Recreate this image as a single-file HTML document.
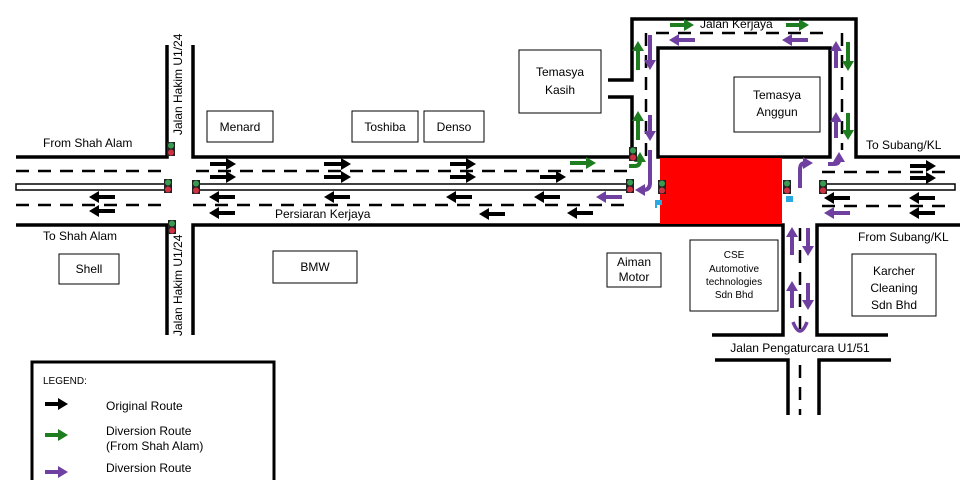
<!DOCTYPE html>
<html><head><meta charset="utf-8"><style>
body{margin:0;background:#fff;width:960px;height:480px;overflow:hidden}
text{font-family:"Liberation Sans",Arial,sans-serif;font-size:12px;fill:#000}
.k{stroke:#000;stroke-width:4;fill:none;marker-end:url(#hk)}
.g{stroke:#1e7d1e;stroke-width:4;fill:none;marker-end:url(#hg)}
.p{stroke:#7040a0;stroke-width:4;fill:none;marker-end:url(#hp)}
</style></head><body>
<svg width="960" height="480" viewBox="0 0 960 480" xmlns="http://www.w3.org/2000/svg">
<defs>
<marker id="hk" markerWidth="2.5" markerHeight="3" refX="0.5" refY="1.5" orient="auto" markerUnits="strokeWidth"><path d="M0,0 L2.5,1.5 L0,3z" fill="#000"/></marker>
<marker id="hg" markerWidth="2.5" markerHeight="3" refX="0.5" refY="1.5" orient="auto" markerUnits="strokeWidth"><path d="M0,0 L2.5,1.5 L0,3z" fill="#1e7d1e"/></marker>
<marker id="hp" markerWidth="2.5" markerHeight="3" refX="0.5" refY="1.5" orient="auto" markerUnits="strokeWidth"><path d="M0,0 L2.5,1.5 L0,3z" fill="#7040a0"/></marker>
<g id="tl"><rect x="-4" y="0" width="8" height="14" fill="#222"/><circle cx="0" cy="3.5" r="3" fill="#3a9a50"/><circle cx="0" cy="10.5" r="3" fill="#d03040"/></g>
</defs>

<g stroke="#000" stroke-width="3.5" fill="none">
<path d="M16,157 H167 V45"/>
<path d="M193,45 V157 H632 V97 H608"/>
<path d="M608,80 H632 V19 H856 V157 H960"/>
<path d="M16,225 H167 V335"/>
<path d="M193,335 V225 H783 V335 H712"/>
<path d="M888,335 H817 V225 H960"/>
<path d="M715,360 H788 V415"/>
<path d="M891,360 H819 V415"/>
<rect x="658" y="48" width="172" height="109"/>
</g>
<rect x="660" y="158" width="122" height="66" fill="#ff0000"/>

<g stroke="#000" stroke-width="1.5" fill="none">
<rect x="16" y="184" width="150" height="6"/>
<rect x="196" y="184" width="432" height="6"/>
<rect x="822" y="184" width="133" height="6"/>
</g>
<g stroke="#000" stroke-width="2.5" stroke-dasharray="13,9" fill="none">
<path d="M16,171 H166 M196,171 H628 M16,205 H166 M193,205 H628"/>
<path d="M822,172 H950 M822,206 H950"/>
<path d="M646,33 V160 M656,33 H828 M842,33 V150"/>
<path d="M800,228 V335 M800,365 V415"/>
</g>

<!-- black -->
<path class="k" d="M210,164 H228"/><path class="k" d="M324,164 H343"/><path class="k" d="M450,164 H468"/>
<path class="k" d="M210,177 H228"/><path class="k" d="M324,177 H343"/><path class="k" d="M450,177 H468"/><path class="k" d="M540,177 H558"/>
<path class="k" d="M235,197 H217"/><path class="k" d="M350,197 H332"/><path class="k" d="M472,197 H454"/><path class="k" d="M560,197 H542"/>
<path class="k" d="M235,213 H217"/><path class="k" d="M505,214 H487"/><path class="k" d="M593,213 H575"/>
<path class="k" d="M115,197 H97"/><path class="k" d="M115,211 H97"/>
<path class="k" d="M910,166 H928"/><path class="k" d="M910,178 H928"/>
<path class="k" d="M850,198 H832"/><path class="k" d="M935,198 H917"/><path class="k" d="M935,213 H917"/>
<path class="k" d="M45,404 H60"/>
<!-- green -->
<path class="g" d="M570,163 H588"/><path class="g" d="M670,25 H686"/><path class="g" d="M786,25 H801"/>
<path class="g" d="M638,70 V49"/><path class="g" d="M638,140 V119"/>
<path class="g" d="M848,42 V63"/><path class="g" d="M848,113 V132"/>
<path class="g" d="M629,166 H635 Q640,166 640,160"/>
<path class="g" d="M45,435 H60"/>
<!-- purple -->
<path class="p" d="M622,197 H604"/><path class="p" d="M850,213 H832"/>
<path class="p" d="M695,40 H677"/><path class="p" d="M808,40 H790"/>
<path class="p" d="M650,35 V62"/><path class="p" d="M650,115 V133"/>
<path class="p" d="M836,68 V49"/><path class="p" d="M836,138 V120"/>
<path class="p" d="M650,150 V183 Q650,190 643,190"/>
<path class="p" d="M800,188 V170 Q800,163 805,163"/>
<path class="p" d="M828,164 H834 Q839,164 839,160"/>
<path class="p" d="M792,255 V235"/><path class="p" d="M792,308 V289"/>
<path class="p" d="M808,228 V248"/><path class="p" d="M808,283 V302"/>
<path stroke="#7040a0" stroke-width="3.5" fill="none" d="M793,322 Q800,340 807,322"/>
<path class="p" d="M45,472 H60"/>

<use href="#tl" x="171" y="142"/>
<use href="#tl" x="168" y="179"/>
<use href="#tl" x="196" y="180"/>
<use href="#tl" x="172" y="220"/>
<use href="#tl" x="633" y="147"/>
<use href="#tl" x="630" y="179"/>
<use href="#tl" x="662" y="180"/>
<use href="#tl" x="787" y="180"/>
<use href="#tl" x="823" y="180"/>
<path d="M655,208 V200 H662 V205 H657 V208z" fill="#2aa8e0"/>
<rect x="786" y="196" width="7" height="6" fill="#2aa8e0"/>

<g fill="#fff" stroke="#000" stroke-width="1">
<rect x="207" y="111" width="66" height="31"/>
<rect x="352" y="111" width="66" height="31"/>
<rect x="424" y="111" width="60" height="31"/>
<rect x="519" y="50" width="82" height="63"/>
<rect x="734" y="77" width="86" height="55"/>
<rect x="59" y="254" width="60" height="30"/>
<rect x="273" y="251" width="84" height="32"/>
<rect x="607" y="253" width="54" height="34"/>
<rect x="690" y="240" width="88" height="71"/>
<rect x="852" y="254" width="84" height="62"/>
</g>
<rect x="32" y="362" width="242" height="130" fill="none" stroke="#000" stroke-width="3"/>

<g text-anchor="middle">
<text x="240" y="131">Menard</text>
<text x="385" y="131">Toshiba</text>
<text x="454" y="131">Denso</text>
<text x="560" y="76">Temasya</text>
<text x="560" y="94">Kasih</text>
<text x="777" y="99">Temasya</text>
<text x="777" y="116">Anggun</text>
<text x="89" y="273">Shell</text>
<text x="315" y="271">BMW</text>
<text x="634" y="266">Aiman</text>
<text x="634" y="281">Motor</text>
<text x="734" y="258" style="font-size:10px">CSE</text>
<text x="734" y="272" style="font-size:10px">Automotive</text>
<text x="734" y="285" style="font-size:10px">technologies</text>
<text x="734" y="298" style="font-size:10px">Sdn Bhd</text>
<text x="894" y="275">Karcher</text>
<text x="894" y="292">Cleaning</text>
<text x="894" y="309">Sdn Bhd</text>
<text x="800" y="352">Jalan Pengaturcara U1/51</text>
</g>
<text x="43" y="147">From Shah Alam</text>
<text x="43" y="240">To Shah Alam</text>
<text x="866" y="149">To Subang/KL</text>
<text x="858" y="241">From Subang/KL</text>
<text x="275" y="218">Persiaran Kerjaya</text>
<text x="700" y="28">Jalan Kerjaya</text>
<text transform="translate(182,135) rotate(-90)">Jalan Hakim U1/24</text>
<text transform="translate(182,336) rotate(-90)">Jalan Hakim U1/24</text>
<text x="43" y="384" style="font-size:10px">LEGEND:</text>
<text x="106" y="410">Original Route</text>
<text x="106" y="435">Diversion Route</text>
<text x="106" y="450">(From Shah Alam)</text>
<text x="106" y="472">Diversion Route</text>
</svg>
</body></html>
